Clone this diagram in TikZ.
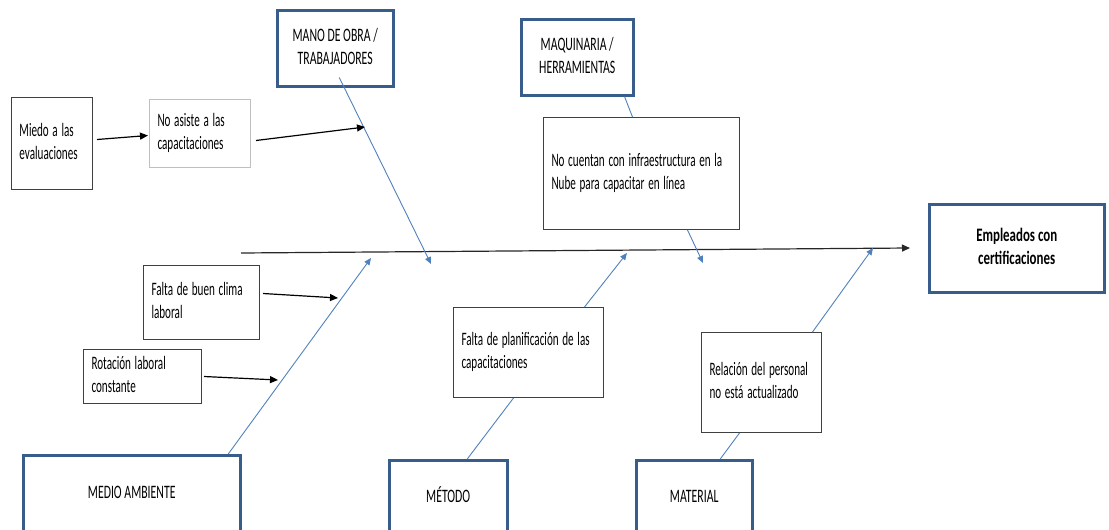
\documentclass[tikz,border=0pt]{standalone}
\usepackage{fontspec}
\setmainfont{Carlito}
\usetikzlibrary{arrows.meta}
\definecolor{catborder}{RGB}{56,93,138}
\definecolor{boneline}{RGB}{79,129,189}
\definecolor{boxgray}{RGB}{64,64,64}
\definecolor{lightgray}{RGB}{191,191,191}

% condensed multi-line label: #1 = horizontal factor, #2 = column alignment, #3 = lines
\newcommand{\narrowtext}[3]{\scalebox{#1}[1]{\begin{tabular}{@{}#2@{}}#3\end{tabular}}}
\newcommand{\causetext}[1]{\narrowtext{0.585}{l}{#1}}
\newcommand{\cattext}[1]{\narrowtext{0.62}{c}{#1}}

\begin{document}
\begin{tikzpicture}[x=1pt,y=-1pt,
  font=\fontsize{19}{23}\selectfont,
  causebox/.style={draw=boxgray, line width=1pt, rectangle, anchor=north west,
    align=left, inner xsep=8pt, inner ysep=0pt},
  catbox/.style={draw=catborder, line width=2.5pt, rectangle, anchor=north west,
    align=center, inner sep=0pt},
  blackarrow/.style={-{Triangle[length=8pt,width=7pt]}, line width=1.2pt, black},
  bone/.style={boneline, line width=0.9pt},
  bonearrow/.style={bone, -{Triangle[length=7pt,width=6pt]}},
]
\useasboundingbox (0,0) rectangle (1109,530);
\clip (0,0) rectangle (1109,530);

% effect
\node[catbox, minimum width=175pt, minimum height=88pt, font=\fontsize{19}{23}\selectfont\bfseries]
  (efecto) at (928,203) {\narrowtext{0.68}{c}{Empleados con\\certificaciones}};

% main categories
\node[catbox, minimum width=116pt, minimum height=76pt] (mano) at (276,9) {\cattext{MANO DE OBRA /\\TRABAJADORES}};
\node[catbox, minimum width=112pt, minimum height=76pt] (maq) at (520,18) {\cattext{MAQUINARIA /\\HERRAMIENTAS}};
\node[catbox, minimum width=217pt, minimum height=78pt] (medio) at (22,454) {\cattext{MEDIO AMBIENTE}};
\node[catbox, minimum width=118pt, minimum height=76pt] (metodo) at (388,459) {\cattext{MÉTODO}};
\node[catbox, minimum width=116pt, minimum height=76pt] (material) at (635,459) {\cattext{MATERIAL}};

% causes
\node[causebox, text width=65pt, minimum height=92pt] (miedo) at (11,97) {\causetext{Miedo a las\\evaluaciones}};
\node[causebox, draw=lightgray, text width=85pt, minimum height=68pt] (noasiste) at (149,99) {\causetext{No asiste a las\\capacitaciones}};
\node[causebox, text width=180pt, minimum height=112pt] (nube) at (543,117) {\causetext{No cuentan con infraestructura en la\\Nube para capacitar en línea}};
\node[causebox, text width=100pt, minimum height=74pt] (clima) at (143,265) {\causetext{Falta de buen clima\\laboral}};
\node[causebox, text width=102pt, minimum height=54pt] (rotacion) at (83,349) {\causetext{Rotación laboral\\constante}};
\node[causebox, text width=134pt, minimum height=90pt] (plan) at (453,307) {\causetext{Falta de planificación de las\\capacitaciones}};
\node[causebox, text width=104pt, minimum height=100pt] (relacion) at (701,332) {\causetext{Relación del personal\\no está actualizado}};

% spine
\coordinate (spinestart) at (241,253);
\coordinate (spineend) at (910,248);
\draw[black!85, line width=1.2pt, -{Triangle[length=8pt,width=7pt]}] (spinestart) -- (spineend);

% bone tips on the spine
\coordinate (manotip) at (431,264);
\coordinate (medioTip) at (371,258);
\coordinate (plantip) at (627,253);
\coordinate (nubetip) at (703,263);
\coordinate (reltip) at (873,248);

% bones
\draw[bonearrow] ([xshift=4pt,yshift=10pt]mano.south) -- (manotip);
\draw[bone] ([xshift=-10pt]maq.south east) -- ([xshift=-9pt]nube.north);
\draw[bonearrow] ([xshift=46pt]nube.south) -- (nubetip);
\draw[bonearrow] ([xshift=96.5pt]medio.north) -- (medioTip);
\draw[bonearrow] ([xshift=56pt]plan.north) -- (plantip);
\draw[bone] ([xshift=19pt]metodo.north) -- ([xshift=-15pt]plan.south);
\draw[bonearrow] ([xshift=51pt]relacion.north) -- (reltip);
\draw[bone] ([xshift=26pt]material.north) -- ([xshift=-22pt]relacion.south);

% sub-cause arrows
\coordinate (manoside) at (365,127);
\coordinate (climaside) at (338,298);
\coordinate (rotside) at (278,380);
\draw[blackarrow] ([xshift=4pt,yshift=4pt]miedo.east) -- ([xshift=-1pt,yshift=-2pt]noasiste.west);
\draw[blackarrow] ([xshift=5pt,yshift=-7pt]noasiste.east) -- (manoside);
\draw[blackarrow] ([xshift=3pt,yshift=9pt]clima.east) -- (climaside);
\draw[blackarrow] ([xshift=2pt]rotacion.east) -- (rotside);
\end{tikzpicture}
\end{document}
